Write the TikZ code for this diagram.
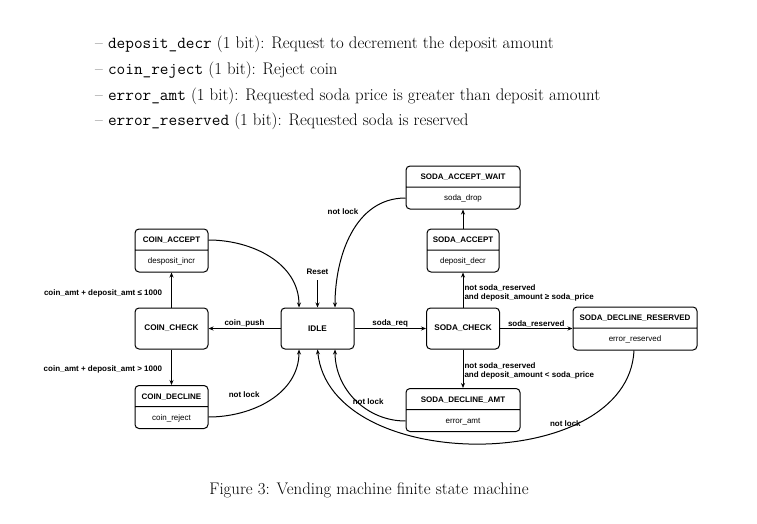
\documentclass[tikz,border=0pt]{standalone}
\usepackage{fontspec}
\newfontfamily\diafont{Liberation Sans}
\usetikzlibrary{shapes.multipart,arrows.meta}
\tikzset{
  state/.style={draw,line width=1pt,rounded corners=4pt,minimum width=73pt,minimum height=41pt,font=\diafont\bfseries\fontsize{8.2}{9}\selectfont},
  split/.style={draw,line width=1pt,rounded corners=4pt,rectangle split,rectangle split parts=2,inner sep=0pt,font=\diafont\fontsize{8}{9}\selectfont},
  edge/.style={line width=1pt,-{Stealth[length=5pt,width=4pt]}},
  lbl/.style={font=\diafont\bfseries\fontsize{8}{9.5}\selectfont,inner sep=1pt},
  bullet/.style={anchor=west,font=\fontsize{16.8}{19}\selectfont,inner sep=0pt}
}
\newcommand{\twopart}[2]{\rule[-7pt]{0pt}{20pt}\textbf{#1}\nodepart{two}\rule[-8pt]{0pt}{21pt}#2}
\begin{document}
\begin{tikzpicture}[x=1pt,y=-1pt]
  \useasboundingbox (0,0) rectangle (757,524);
  % requirement list
  \node[bullet] (b1) at (95,44)  {-- \texttt{deposit\_decr} (1 bit): Request to decrement the deposit amount};
  \node[bullet] (b2) at (95,70)  {-- \texttt{coin\_reject} (1 bit): Reject coin};
  \node[bullet] (b3) at (95,96)  {-- \texttt{error\_amt} (1 bit): Requested soda price is greater than deposit amount};
  \node[bullet] (b4) at (95,121) {-- \texttt{error\_reserved} (1 bit): Requested soda is reserved};
  % states
  \node[state] (idle) at (317.5,328.5) {IDLE};
  \node[state] (coincheck) at (171.5,328.5) {COIN\_CHECK};
  \node[state] (sodacheck) at (463,328.5) {SODA\_CHECK};
  \node[split,text width=73pt,align=center] (coinaccept) at (171.5,250.5) {\twopart{COIN\_ACCEPT}{desposit\_incr}};
  \node[split,text width=73pt,align=center] (coindecline) at (171.5,407) {\twopart{COIN\_DECLINE}{coin\_reject}};
  \node[split,text width=72pt,align=center] (sodaaccept) at (463,250.5) {\twopart{SODA\_ACCEPT}{deposit\_decr}};
  \node[split,text width=114pt,align=center] (sodawait) at (463,187.5) {\twopart{SODA\_ACCEPT\_WAIT}{soda\_drop}};
  \node[split,text width=124pt,align=center] (sodares) at (635,328.5) {\twopart{SODA\_DECLINE\_RESERVED}{error\_reserved}};
  \node[split,text width=114pt,align=center] (sodaamt) at (463,410) {\twopart{SODA\_DECLINE\_AMT}{error\_amt}};
  \coordinate (reset) at (317.5,280);
  % transitions
  \draw[edge] (idle) -- node[lbl,above] {coin\_push} (coincheck);
  \draw[edge] (coincheck) -- node[lbl,left=8pt,pos=0.4] {coin\_amt + deposit\_amt ≤ 1000} (coinaccept);
  \draw[edge] (coincheck) -- node[lbl,left=8pt,pos=0.55] {coin\_amt + deposit\_amt > 1000} (coindecline);
  \draw[edge] (coinaccept.east |- 0,240) to[out=0,in=90] (idle.north -| 299,0);
  \draw[edge] (reset) node[lbl,above=4pt] {Reset} -- (idle);
  \draw[edge] (sodawait.west |- 0,198) to[out=180,in=90] node[lbl,pos=0.3,left=8pt] {not lock} (idle.north -| 335,0);
  \draw[edge] (coindecline.east |- 0,417) to[out=0,in=-90] node[lbl,pos=0.45,above left=4pt] {not lock} (idle.south -| 299,0);
  \draw[edge] (sodaamt.west |- 0,421) to[out=180,in=-90] node[lbl,pos=0.35,above=4pt] {not lock} (idle.south -| 335,0);
  \draw[edge] (sodares.south -| 634,0) .. controls (628,475) and (330,475) .. node[lbl,pos=0.3,above=1pt] {not lock} (idle.south);
  \draw[edge] (idle) -- node[lbl,above] {soda\_req} (sodacheck);
  \draw[edge] (sodacheck) -- node[lbl,right,align=left,pos=0.5,yshift=-3pt] {not soda\_reserved\\and deposit\_amount ≥ soda\_price} (sodaaccept);
  \draw[edge] (sodaaccept) -- (sodawait);
  \draw[edge] (sodacheck) -- node[lbl,above] {soda\_reserved} (sodares);
  \draw[edge] (sodacheck) -- node[lbl,right,align=left,pos=0.5,yshift=-2pt] {not soda\_reserved\\and deposit\_amount < soda\_price} (sodaamt);
  % caption
  \node[font=\fontsize{16.8}{19}\selectfont] (caption) at (369,490) {Figure 3: Vending machine finite state machine};
\end{tikzpicture}
\end{document}
